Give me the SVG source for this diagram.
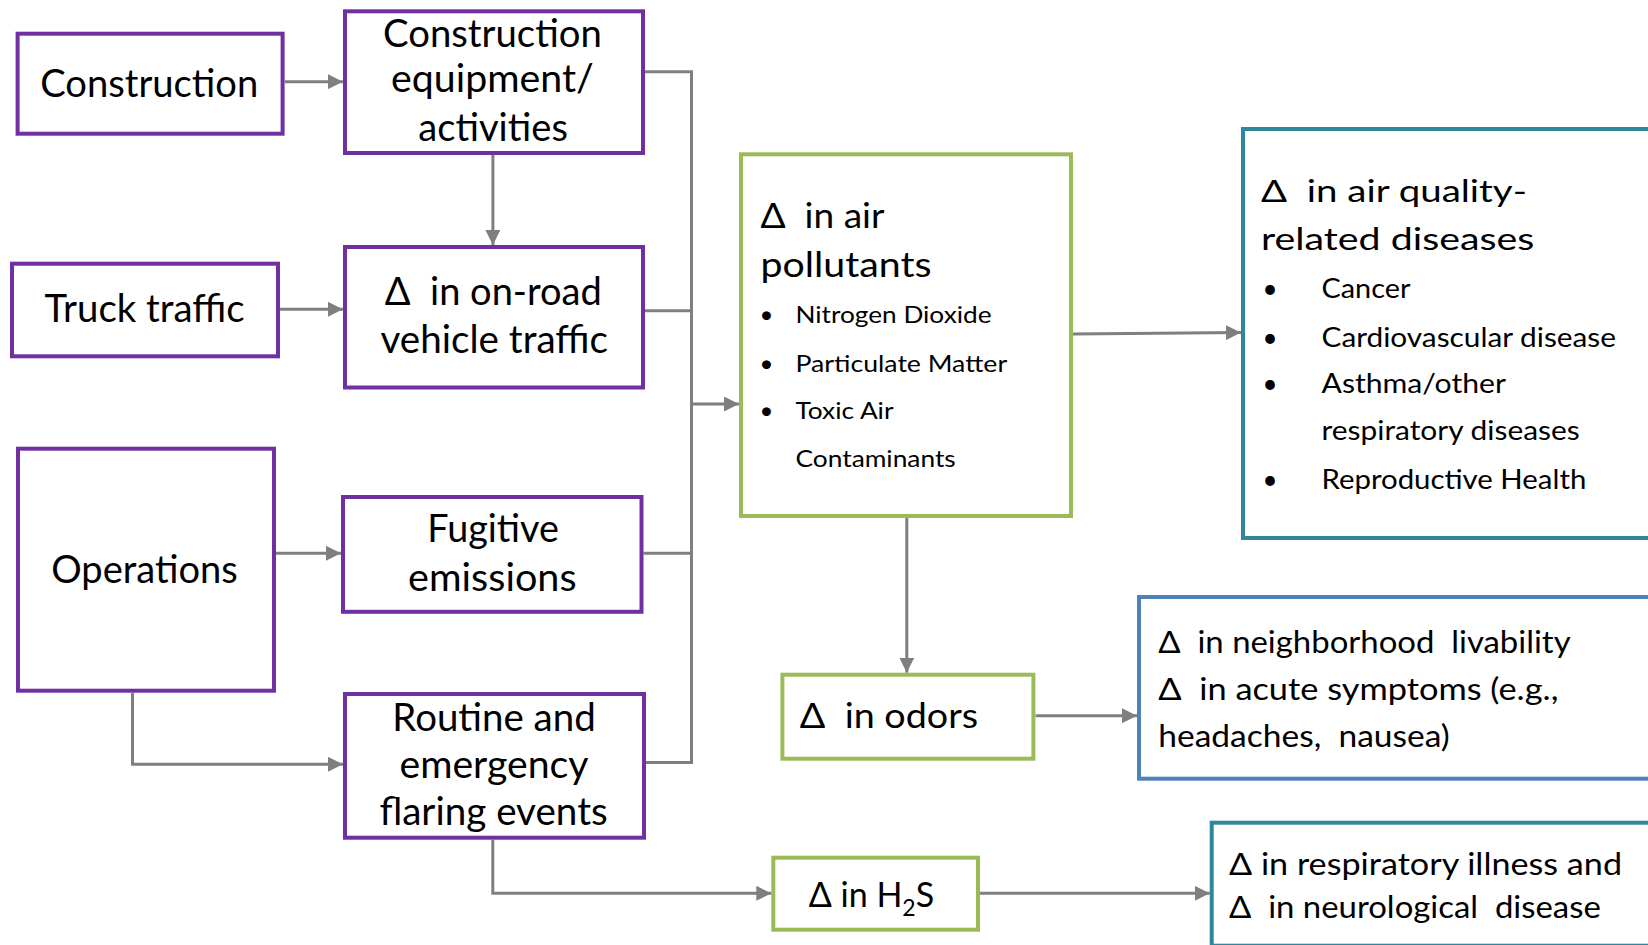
<svg xmlns="http://www.w3.org/2000/svg" width="1648" height="945" viewBox="0 0 1648 945">
<defs>
<style>
.bx{fill:#fff;stroke-width:4}
.p{stroke:#7030A0}
.g{stroke:#9BBB59}
.t{stroke:#31859C}
.bl{stroke:#4F81BD}
.c{fill:none;stroke:#7F7F7F;stroke-width:3}
text{font-family:Lato,"Open Sans","DejaVu Sans",sans-serif;fill:#000;white-space:pre}
.L{font-size:38px}
.M{font-size:34px}
.N{font-size:31px}
.S{font-size:24px}
.R{font-size:26px}
</style>
<marker id="ah" markerUnits="userSpaceOnUse" markerWidth="15" markerHeight="15" refX="15" refY="7.5" orient="auto">
<path d="M0,0 L15,7.5 L0,15 Z" fill="#7F7F7F"/>
</marker>
</defs>
<rect width="1648" height="945" fill="#fff"/>

<g id="connectors">
<path class="c" d="M284.8,81.7 H342.9" marker-end="url(#ah)"/>
<path class="c" d="M492.9,155 V245" marker-end="url(#ah)"/>
<path class="c" d="M280,309.3 H342.9" marker-end="url(#ah)"/>
<path class="c" d="M645,71.7 H691.5 V762.5 H646"/>
<path class="c" d="M645,310.7 H691.5"/>
<path class="c" d="M643.5,553.3 H691.5"/>
<path class="c" d="M691.5,404 H739" marker-end="url(#ah)"/>
<path class="c" d="M275.8,553.3 H341" marker-end="url(#ah)"/>
<path class="c" d="M132.5,693 V764.3 H343" marker-end="url(#ah)"/>
<path class="c" d="M492.8,839.7 V893.3 H771.3" marker-end="url(#ah)"/>
<path class="c" d="M1073,334 L1241,332.5" marker-end="url(#ah)"/>
<path class="c" d="M906.8,518 V672.7" marker-end="url(#ah)"/>
<path class="c" d="M1035.5,715.7 H1137" marker-end="url(#ah)"/>
<path class="c" d="M980,893.3 H1209.7" marker-end="url(#ah)"/>
</g>

<g id="construction">
<rect class="bx p" x="17.6" y="33.7" width="265" height="100"/>
<text class="L" x="40.2" y="96.7" textLength="218" lengthAdjust="spacingAndGlyphs">Construction</text>
</g>

<g id="equipment">
<rect class="bx p" x="345" y="11.3" width="298" height="141.7"/>
<text class="L" x="383" y="46.7" textLength="218.8" lengthAdjust="spacingAndGlyphs">Construction</text>
<text class="L" x="391" y="91.7" textLength="202.8" lengthAdjust="spacingAndGlyphs">equipment/</text>
<text class="L" x="418.3" y="140.7" textLength="149.6" lengthAdjust="spacingAndGlyphs">activities</text>
</g>

<g id="truck">
<rect class="bx p" x="12" y="263.7" width="266" height="92.6"/>
<text class="L" x="44.6" y="321.7" textLength="200" lengthAdjust="spacingAndGlyphs">Truck traffic</text>
</g>

<g id="onroad">
<rect class="bx p" x="345" y="247" width="298" height="140.5"/>
<text class="L" x="384.8" y="305" textLength="217" lengthAdjust="spacingAndGlyphs">Δ  in on-road</text>
<text class="L" x="380.4" y="352.7" textLength="227.6" lengthAdjust="spacingAndGlyphs">vehicle traffic</text>
</g>

<g id="operations">
<rect class="bx p" x="18" y="448.7" width="256" height="242"/>
<text class="L" x="51.2" y="582.5" textLength="186.6" lengthAdjust="spacingAndGlyphs">Operations</text>
</g>

<g id="fugitive">
<rect class="bx p" x="343" y="497" width="298.5" height="114.8"/>
<text class="L" x="427.3" y="541.8" textLength="131.6" lengthAdjust="spacingAndGlyphs">Fugitive</text>
<text class="L" x="408.1" y="590.5" textLength="168.5" lengthAdjust="spacingAndGlyphs">emissions</text>
</g>

<g id="flaring">
<rect class="bx p" x="345" y="694" width="299" height="143.7"/>
<text class="L" x="392.3" y="730.9" textLength="203.4" lengthAdjust="spacingAndGlyphs">Routine and</text>
<text class="L" x="399.5" y="778.2" textLength="189" lengthAdjust="spacingAndGlyphs">emergency</text>
<text class="L" x="379.4" y="824.7" textLength="228.3" lengthAdjust="spacingAndGlyphs">flaring events</text>
</g>

<g id="pollutants">
<rect class="bx g" x="741" y="154.3" width="330" height="361.7"/>
<text class="M" x="760.5" y="228.3" textLength="124" lengthAdjust="spacingAndGlyphs">Δ  in air</text>
<text class="M" x="760.5" y="276.7" textLength="171" lengthAdjust="spacingAndGlyphs">pollutants</text>
<text class="S" x="759.5" y="323.3">•</text>
<text class="S" x="795.5" y="323.3" textLength="196" lengthAdjust="spacingAndGlyphs">Nitrogen Dioxide</text>
<text class="S" x="759.5" y="371.7">•</text>
<text class="S" x="795.5" y="371.7" textLength="211.6" lengthAdjust="spacingAndGlyphs">Particulate Matter</text>
<text class="S" x="759.5" y="419.3">•</text>
<text class="S" x="795.5" y="419.3" textLength="98" lengthAdjust="spacingAndGlyphs">Toxic Air</text>
<text class="S" x="795.5" y="466.7" textLength="160.2" lengthAdjust="spacingAndGlyphs">Contaminants</text>
</g>

<g id="diseases">
<rect class="bx t" x="1243" y="129" width="500" height="409"/>
<text class="N" x="1261" y="201.7" textLength="266" lengthAdjust="spacingAndGlyphs">Δ  in air quality-</text>
<text class="N" x="1261" y="250" textLength="273.3" lengthAdjust="spacingAndGlyphs">related diseases</text>
<text class="R" x="1262.5" y="298.3">•</text>
<text class="R" x="1321.5" y="298.3" textLength="88.9" lengthAdjust="spacingAndGlyphs">Cancer</text>
<text class="R" x="1262.5" y="346.7">•</text>
<text class="R" x="1321.5" y="346.7" textLength="294.5" lengthAdjust="spacingAndGlyphs">Cardiovascular disease</text>
<text class="R" x="1262.5" y="393.3">•</text>
<text class="R" x="1321.5" y="393.3" textLength="184.4" lengthAdjust="spacingAndGlyphs">Asthma/other</text>
<text class="R" x="1321.5" y="440" textLength="258.2" lengthAdjust="spacingAndGlyphs">respiratory diseases</text>
<text class="R" x="1262.5" y="489.3">•</text>
<text class="R" x="1321.5" y="489.3" textLength="264.8" lengthAdjust="spacingAndGlyphs">Reproductive Health</text>
</g>

<g id="odors">
<rect class="bx g" x="782.4" y="674.7" width="251" height="84"/>
<text class="M" x="799.8" y="728.3" textLength="178.3" lengthAdjust="spacingAndGlyphs">Δ  in odors</text>
</g>

<g id="livability">
<rect class="bx bl" x="1139" y="597" width="600" height="181.7"/>
<text class="N" x="1158.3" y="652.7" textLength="412.3" lengthAdjust="spacingAndGlyphs">Δ  in neighborhood  livability</text>
<text class="N" x="1158.3" y="700" textLength="400.2" lengthAdjust="spacingAndGlyphs">Δ  in acute symptoms (e.g.,</text>
<text class="N" x="1158.3" y="746.7" textLength="291.4" lengthAdjust="spacingAndGlyphs">headaches,  nausea)</text>
</g>

<g id="h2s">
<rect class="bx g" x="773.3" y="857.7" width="204.7" height="72"/>
<text class="M" x="808.8" y="906.7">Δ in H<tspan font-size="23" dy="9">2</tspan><tspan dy="-9">S</tspan></text>
</g>

<g id="respiratory">
<rect class="bx t" x="1211.7" y="822.7" width="500" height="123"/>
<text class="N" x="1229" y="875" textLength="393" lengthAdjust="spacingAndGlyphs">Δ in respiratory illness and</text>
<text class="N" x="1229" y="918.3" textLength="371.8" lengthAdjust="spacingAndGlyphs">Δ  in neurological  disease</text>
</g>
</svg>
